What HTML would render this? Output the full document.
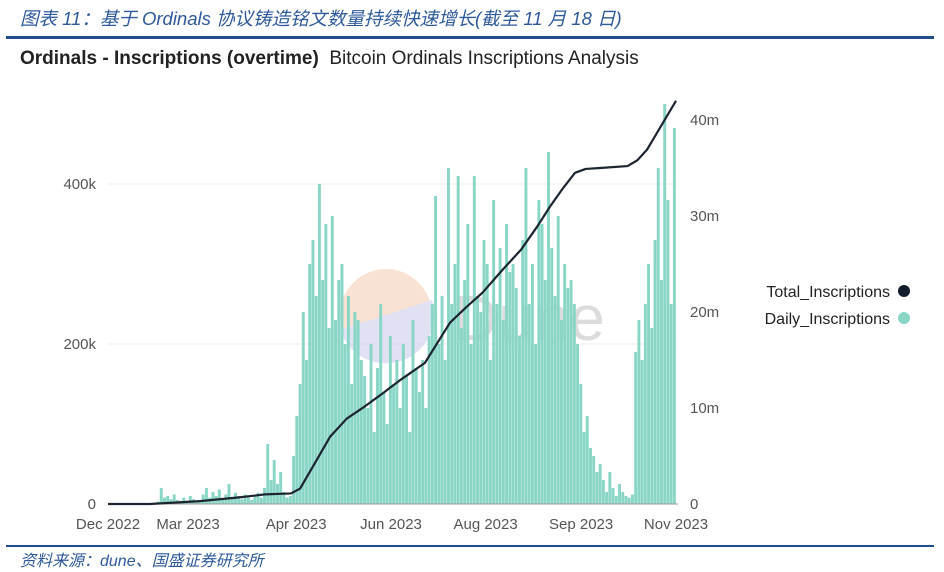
<!DOCTYPE html>
<html><head><meta charset="utf-8"><style>
body{margin:0;width:944px;height:572px;background:#fff;overflow:hidden;position:relative;font-family:"Liberation Sans","Noto Sans CJK SC",sans-serif}
.t{position:absolute;white-space:nowrap}
</style></head><body>
<div class="t" style="left:20px;top:5px;font-size:18.5px;font-style:italic;color:#2e5a9c">图表 11：基于 Ordinals 协议铸造铭文数量持续快速增长(截至 11 月 18 日)</div>
<div style="position:absolute;left:6px;top:36px;width:928px;height:3px;background:#1f4e8f"></div>
<div class="t" style="left:20px;top:48px;font-size:19px;color:#222"><b>Ordinals - Inscriptions (overtime)</b>&nbsp; Bitcoin Ordinals Inscriptions Analysis</div>
<svg id="chart" width="944" height="572" style="position:absolute;left:0;top:0"></svg>
<div style="position:absolute;left:6px;top:545px;width:928px;height:2px;background:#1f4e8f"></div>
<div class="t" style="left:20px;top:547px;font-size:16px;font-style:italic;color:#2e5a9c">资料来源：dune、国盛证券研究所</div>
<script>
const dailyK=[0,0,0,0,0,0,0,0,0,0,0,0,0,0,1,
3,20,8,10,6,12,5,4,8,3,10,6,4,3,12,20,8,15,10,18,6,12,25,8,14,10,6,12,8,5,10,14,8,20,75,30,55,25,40,15,8,10,
60,110,150,
240,180,300,330,260,400,280,350,220,
360,230,280,300,200,260,150,240,230,180,160,
120,200,90,170,250,140,100,210,150,180,120,200,160,90,230,170,140,180,120,210,250,
385,200,260,180,420,250,300,410,220,280,350,200,410,260,240,330,300,180,380,250,320,230,350,290,300,270,210,330,
420,250,300,200,380,350,280,440,320,260,360,230,300,270,280,250,200,
150,90,110,70,60,40,50,
30,15,40,20,10,25,15,10,8,12,
190,230,180,250,300,220,330,420,280,500,380,250,470];
const totalX=[0,13,28.5,41,48.6,56.7,59.5,64,68.8,74,79.3,85,90.5,98.2,106,111,116,122,128,133,137,141,144.7,148,152.5,161,164,167,170,173,176];
const totalM=[0,0,0.3,0.7,1.0,1.1,1.6,4.2,7.0,8.9,10.1,11.5,12.9,14.7,18.9,20.5,22,24.3,26.5,28.9,31,32.9,34.5,34.9,35,35.2,35.8,36.9,38.6,40.3,42];
const xTickPos=[0,24.8,58.3,87.7,117,146.6,176];
const xTickLabels=["Dec 2022","Mar 2023","Apr 2023","Jun 2023","Aug 2023","Sep 2023","Nov 2023"];
const leftTicks=[0,200,400];
const leftTickLabels=["0","200k","400k"];
const rightTicks=[0,10,20,30,40];
const rightTickLabels=["0","10m","20m","30m","40m"];

const svg=document.getElementById('chart');
const NS='http://www.w3.org/2000/svg';
const X0=108,X1=676,Y0=504,N=176;
const x=v=>X0+(X1-X0)*v/N;
const yL=v=>Y0-v*0.8;
const yR=v=>Y0-v*9.6;
function mk(t,a){const e=document.createElementNS(NS,t);for(const k in a)e.setAttribute(k,a[k]);svg.appendChild(e);return e;}
leftTicks.forEach((v,i)=>{
  if(v>0){const g=mk('line',{x1:X0,x2:X1+2,y1:yL(v),y2:yL(v),stroke:'#eeeeee','stroke-width':1});
  
  }
  const t=mk('text',{x:96,y:yL(v)+5,'text-anchor':'end','font-size':15,fill:'#555','font-family':'Liberation Sans'});
  t.textContent=leftTickLabels[i];
  
  
});
rightTicks.forEach((v,i)=>{
  const t=mk('text',{x:690,y:yR(v)+5,'font-size':15,fill:'#555','font-family':'Liberation Sans'});
  t.textContent=rightTickLabels[i];
  
  
});
const wm=mk('g',{opacity:0.5});


const c1=document.createElementNS(NS,'circle');c1.setAttribute('cx',386);c1.setAttribute('cy',315);c1.setAttribute('r',46);c1.setAttribute('fill','#f4c6ab');wm.appendChild(c1);
const p1=document.createElementNS(NS,'path');p1.setAttribute('d','M340,330 L432,300 A46,46 0 0 1 340,330 Z');p1.setAttribute('fill','#c3c6ea');wm.appendChild(p1);
const wt=document.createElementNS(NS,'text');wt.setAttribute('x',452);wt.setAttribute('y',340);wt.setAttribute('font-size',64);wt.setAttribute('fill','#bbb');wt.setAttribute('font-family','Liberation Sans');wt.textContent='Dune';wm.appendChild(wt);
const bw=(X1-X0)/N;
dailyK.forEach((v,i)=>{
  const r=mk('rect',{x:x(i)+0.15,y:yL(v),width:bw-0.3,height:Y0-yL(v),fill:'#8ad6c6'});
  
  
});
mk('line',{x1:X0,x2:X1+2,y1:Y0,y2:Y0,stroke:'#999','stroke-width':1});
const pl=mk('polyline',{points:totalX.map((v,i)=>x(v)+','+yR(totalM[i])).join(' '),fill:'none',stroke:'#1c2530','stroke-width':2.2,'stroke-linejoin':'round'});


xTickPos.forEach((v,i)=>{
  const t=mk('text',{x:x(v),y:529,'text-anchor':'middle','font-size':15,fill:'#555','font-family':'Liberation Sans'});
  t.textContent=xTickLabels[i];
  
  
});
[["Total_Inscriptions","#111c2c",297],["Daily_Inscriptions","#8ad6c6",324]].forEach(d=>{
  const t=mk('text',{x:890,y:d[2],'text-anchor':'end','font-size':16,fill:'#222','font-family':'Liberation Sans'});
  t.textContent=d[0];
  
  
  const c=mk('circle',{cx:904,cy:d[2]-6,r:6,fill:d[1]});
  
  
});
</script>
</body></html>
